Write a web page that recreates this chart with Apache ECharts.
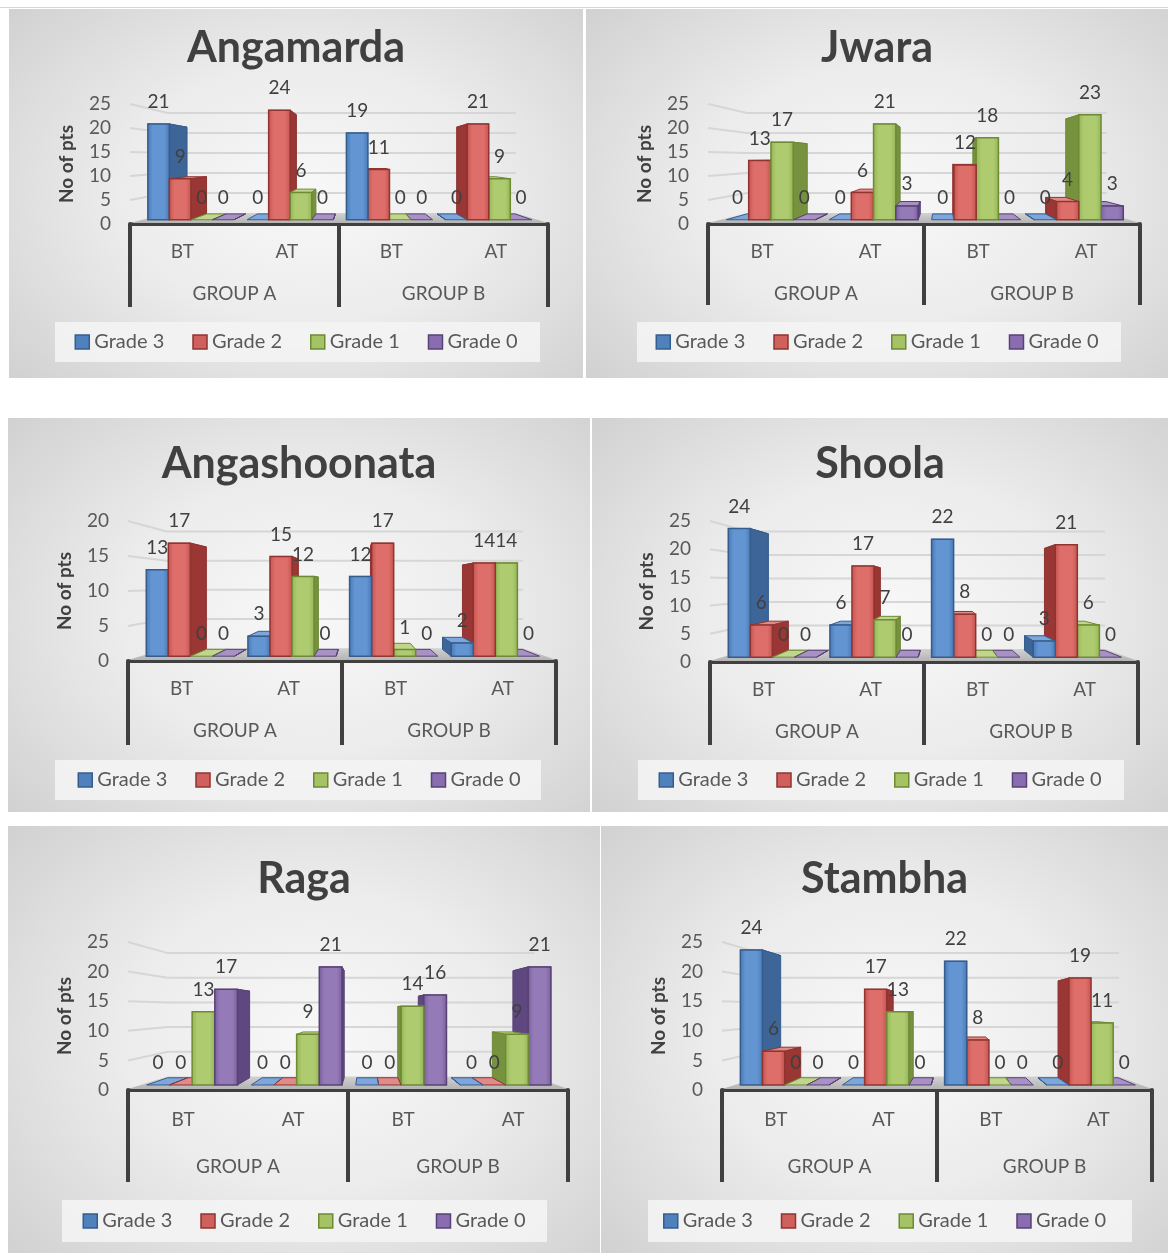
<!DOCTYPE html>
<html>
<head>
<meta charset="utf-8">
<title>Grades BT / AT</title>
<script src="https://cdn.jsdelivr.net/npm/echarts@6/dist/echarts.min.js"></script>
<style>
  body { margin: 0; background: #fff; width: 1168px; height: 1253px; position: relative; overflow: hidden; }
  .topline { position: absolute; left: 0; top: 7px; width: 1168px; height: 1px; background: #d6d6d6; }
  .panel {
    position: absolute;
    background: radial-gradient(ellipse 72% 78% at 52% 50%, #f8f8f8 0%, #ececec 45%, #cfcfcf 100%);
  }
</style>
</head>
<body>
<div class="topline"></div>
<div class="panel" id="p0" style="left:9px;top:9px;width:574px;height:369px"></div>
<div class="panel" id="p1" style="left:586px;top:9px;width:582px;height:369px"></div>
<div class="panel" id="p2" style="left:8px;top:418px;width:582px;height:394px"></div>
<div class="panel" id="p3" style="left:592px;top:418px;width:576px;height:394px"></div>
<div class="panel" id="p4" style="left:8px;top:826px;width:592px;height:427px"></div>
<div class="panel" id="p5" style="left:601px;top:826px;width:567px;height:427px"></div>
<script>
// ---- data ----
const categories = ["BT", "AT", "BT", "AT"];
const groups = ["GROUP A", "GROUP B"];
const grades = ["Grade 3", "Grade 2", "Grade 1", "Grade 0"];
const ticks25 = [0, 5, 10, 15, 20, 25];
const ticks20 = [0, 5, 10, 15, 20];

// rows: Grade 3, Grade 2, Grade 1, Grade 0 ; columns: A-BT, A-AT, B-BT, B-AT
const angamarda = [[21, 0, 19, 0], [9, 24, 11, 21], [0, 6, 0, 9], [0, 0, 0, 0]];
const jwara = [[0, 0, 0, 0], [13, 6, 12, 4], [17, 21, 18, 23], [0, 3, 0, 3]];
const angashoonata = [[13, 3, 12, 2], [17, 15, 17, 14], [0, 12, 1, 14], [0, 0, 0, 0]];
const shoola = [[24, 6, 22, 3], [6, 17, 8, 21], [0, 7, 0, 6], [0, 0, 0, 0]];
const raga = [[0, 0, 0, 0], [0, 0, 0, 0], [13, 9, 14, 9], [17, 21, 16, 21]];
const stambha = [[24, 0, 22, 0], [6, 17, 8, 19], [0, 13, 0, 11], [0, 0, 0, 0]];

// ---- layout / styles ----
const FONT = "Lato, 'Open Sans', sans-serif";
const panels = [
  { id: "p0", title: "Angamarda", data: angamarda, ticks: ticks25,
    grid: { left: 121, top: 95, width: 418, height: 120 }, titleY: 38, sep: 83, lm: 18, gm: 60, box: [46, 313, 485, 40] },
  { id: "p1", title: "Jwara", data: jwara, ticks: ticks25,
    grid: { left: 122, top: 95, width: 432, height: 120 }, titleY: 38, sep: 81, lm: 18, gm: 60, box: [51, 313, 484, 40] },
  { id: "p2", title: "Angashoonata", data: angashoonata, ticks: ticks20,
    grid: { left: 120, top: 103, width: 428, height: 140 }, titleY: 45, sep: 84, lm: 18, gm: 60, box: [47, 342, 486, 40] },
  { id: "p3", title: "Shoola", data: shoola, ticks: ticks25,
    grid: { left: 118, top: 103, width: 428, height: 141 }, titleY: 45, sep: 83, lm: 18, gm: 60, box: [46, 342, 486, 40] },
  { id: "p4", title: "Raga", data: raga, ticks: ticks25,
    grid: { left: 120, top: 116, width: 440, height: 148 }, titleY: 52, sep: 92, lm: 20, gm: 67, box: [54, 374, 485, 42] },
  { id: "p5", title: "Stambha", data: stambha, ticks: ticks25,
    grid: { left: 121, top: 116, width: 430, height: 148 }, titleY: 52, sep: 92, lm: 20, gm: 67, box: [47, 374, 484, 42] }
];

const barStyles = [
  { front: ["#4577b3", "#6495d3"], side: "#3d6597", top: "#7ea6da", stroke: "#355d8c", legend: "#4f81bd" },
  { front: ["#c4524e", "#de6e6a"], side: "#9a3633", top: "#e08b88", stroke: "#8f3431", legend: "#d0605c" },
  { front: ["#93b552", "#aecb70"], side: "#76923f", top: "#bfd68c", stroke: "#6d8a35", legend: "#a5c265" },
  { front: ["#7a5e9d", "#957ab8"], side: "#5f4880", top: "#a891c5", stroke: "#574273", legend: "#8a6db0" }
];

// simple perspective: points are pulled toward a vanishing point by depth d
const D1 = 0.05, D2 = 0.14, DW = 0.167;
function persp(cs) {
  const vx = cs.x + cs.width * 0.54, vy = cs.y + cs.height * 0.45;
  return {
    vx: vx,
    P: (x, y, d) => [vx + (x - vx) * (1 - d), vy + (y - vy) * (1 - d)]
  };
}

function wallRender(params, api) {
  const cs = params.coordSys;
  const pp = persp(cs), P = pp.P;
  const v = api.value(1);
  const y = api.coord([0, v])[1];
  const x0 = cs.x, x1 = cs.x + cs.width;
  if (v === 0) {
    return {
      type: "polygon",
      shape: { points: [P(x0, y - 1, 0), P(x1, y - 1, 0), P(x1, y, DW), P(x0, y, DW)] },
      style: { fill: new echarts.graphic.LinearGradient(0, 1, 0, 0, [
        { offset: 0, color: "#b4b4b4" }, { offset: 1, color: "#d2d2d2" }]) }
    };
  }
  return {
    type: "polyline",
    shape: { points: [P(x0, y, 0), P(x0, y, DW), P(x1, y, DW)] },
    style: { stroke: "#d6d6d6", lineWidth: 2, fill: null }
  };
}

function barRender(k) {
  const st = barStyles[k];
  return function (params, api) {
    const cs = params.coordSys;
    const pp = persp(cs), P = pp.P;
    const i = api.value(0), v = api.value(1);
    const band = api.size([1, 0])[0];
    const bw = band * 0.217;
    const c0 = api.coord([i, 0]);
    const ct = api.coord([i, v]);
    const xl = c0[0] + (k - 2) * bw, xr = xl + bw;
    const y0 = c0[1] - 1, yt = ct[1] - 1;
    const fl = P(xl, yt, D1), fr = P(xr, y0, D1);
    const cx = (fl[0] + fr[0]) / 2;
    const base = cx < pp.vx ? k : 8 - k;
    const children = [];
    children.push({
      type: "polygon", z2: base * 3,
      shape: { points: [P(xl, yt, D1), P(xr, yt, D1), P(xr, yt, D2), P(xl, yt, D2)] },
      style: { fill: st.top, stroke: st.stroke, lineWidth: 1 }
    });
    if (xr <= pp.vx || xl >= pp.vx) {
      const xs = xr <= pp.vx ? xr : xl;
      children.push({
        type: "polygon", z2: base * 3 + 1,
        shape: { points: [P(xs, yt, D1), P(xs, yt, D2), P(xs, y0, D2), P(xs, y0, D1)] },
        style: { fill: st.side, stroke: st.stroke, lineWidth: 1 }
      });
    }
    if (fr[1] - fl[1] > 0.5) {
      children.push({
        type: "rect", z2: base * 3 + 2,
        shape: { x: fl[0], y: fl[1], width: fr[0] - fl[0], height: fr[1] - fl[1] },
        style: {
          fill: new echarts.graphic.LinearGradient(0, 0, 1, 0, [
            { offset: 0, color: st.front[0] }, { offset: 0.25, color: st.front[1] },
            { offset: 0.75, color: st.front[1] }, { offset: 1, color: st.front[0] }]),
          stroke: st.stroke, lineWidth: 1.5
        }
      });
    }
    children.push({
      type: "text", z2: 100,
      style: { x: cx, y: fl[1] - 22, text: String(v), align: "center", verticalAlign: "middle",
        fill: "#404040", font: "19px " + FONT }
    });
    return { type: "group", children: children };
  };
}

function buildOption(p) {
  const yMax = p.ticks[p.ticks.length - 1];
  const series = [{
    name: "wall", type: "custom", z: 1, silent: true,
    renderItem: wallRender,
    data: p.ticks.map(t => [0, t])
  }];
  grades.forEach((g, k) => {
    series.push({
      name: g, type: "custom", z: 3,
      renderItem: barRender(k),
      data: p.data[k].map((v, i) => [i, v])
    });
  });
  return {
    animation: false,
    textStyle: { fontFamily: FONT },
    title: {
      text: p.title, left: "center", top: p.titleY - 20, padding: 0,
      textStyle: { fontSize: 43, fontWeight: "bold", color: "#404040", fontFamily: FONT }
    },
    legend: {
      data: grades.map((g, k) => ({
        name: g,
        itemStyle: { color: barStyles[k].legend, borderColor: barStyles[k].stroke, borderWidth: 1.5 }
      })),
      icon: "rect", itemWidth: 14, itemHeight: 14, itemGap: 28,
      left: "center", top: p.box[1] + p.box[3] / 2 - 10, padding: 0, selectedMode: false,
      textStyle: { fontSize: 20, color: "#595959", fontFamily: FONT }
    },
    graphic: [{
      type: "rect", z: 0, silent: true,
      shape: { x: p.box[0], y: p.box[1], width: p.box[2], height: p.box[3] },
      style: { fill: "rgba(243,243,243,0.92)" }
    }],
    grid: p.grid,
    xAxis: [
      {
        type: "category", data: categories,
        axisLine: { lineStyle: { color: "#404040", width: 4 } },
        axisTick: { show: false },
        axisLabel: { margin: p.lm, fontSize: 19, color: "#595959", fontFamily: FONT }
      },
      {
        type: "category", data: groups, position: "bottom",
        axisLine: { show: false },
        axisTick: { show: true, length: p.sep, lineStyle: { color: "#404040", width: 4 } },
        axisLabel: { margin: p.gm, fontSize: 19, color: "#595959", fontFamily: FONT }
      }
    ],
    yAxis: {
      type: "value", min: 0, max: yMax, interval: 5,
      name: "No of pts", nameLocation: "middle", nameRotate: 90, nameGap: 54,
      nameTextStyle: { fontSize: 19, fontWeight: "bold", color: "#404040", fontFamily: FONT },
      axisLine: { show: false }, axisTick: { show: false }, splitLine: { show: false },
      axisLabel: { margin: 19, fontSize: 19, color: "#595959", fontFamily: FONT }
    },
    series: series
  };
}

panels.forEach(p => {
  const chart = echarts.init(document.getElementById(p.id), null, { renderer: "canvas" });
  chart.setOption(buildOption(p));
});
</script>
</body>
</html>
